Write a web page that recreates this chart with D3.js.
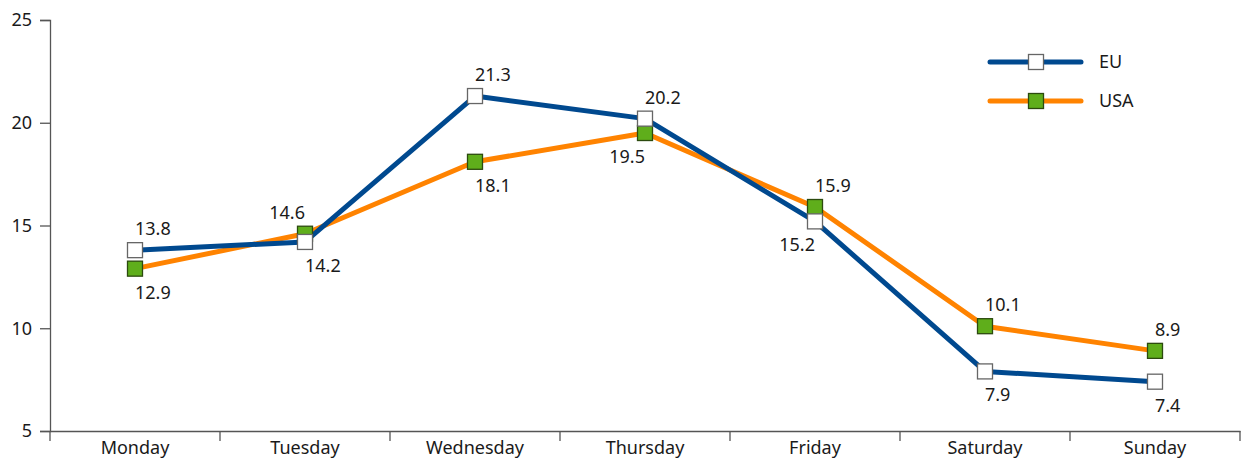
<!DOCTYPE html>
<html>
<head>
<meta charset="utf-8">
<script src="https://cdn.jsdelivr.net/npm/d3@7"></script>
<style>
    body { margin: 0; background: #fff; }
    text { font-family: "Noto Sans", "Open Sans", sans-serif; fill: #1a1a1a; }
</style>
</head>
<body>
<div id="chart"></div>
<script>
// chart data
var days = ["Monday", "Tuesday", "Wednesday", "Thursday", "Friday", "Saturday", "Sunday"];
var euValues = [13.8, 14.2, 21.3, 20.2, 15.2, 7.9, 7.4];
var usaValues = [12.9, 14.6, 18.1, 19.5, 15.9, 10.1, 8.9];
var yTicks = [5, 10, 15, 20, 25];

var width = 1242, height = 463;
var fontSize = "18px";
var svg = d3.select("#chart").append("svg")
        .attr("width", width)
        .attr("height", height);

var x = d3.scaleBand().domain(days).range([50, 1240]);
var y = d3.scaleLinear().domain([5, 25]).range([431, 20]);

var axisColor = "#555";

// y axis
var yAxis = svg.append("g").attr("transform", "translate(50,0)")
        .call(d3.axisLeft(y).tickValues(yTicks).tickSize(10).tickPadding(8));
yAxis.select(".domain").attr("stroke", axisColor).attr("stroke-width", 1.3);
yAxis.selectAll(".tick line").attr("stroke", axisColor).attr("stroke-width", 1.3);
yAxis.selectAll(".tick text").style("font-size", fontSize).attr("fill", "#1a1a1a")
        .style("font-family", "'Noto Sans', sans-serif");

// x axis: labels at band centres, ticks at band edges
var xAxis = svg.append("g").attr("transform", "translate(0,431)")
        .call(d3.axisBottom(x).tickSize(0).tickPadding(5).tickSizeOuter(0));
xAxis.select(".domain").attr("stroke", axisColor).attr("stroke-width", 1.3);
xAxis.selectAll(".tick text").style("font-size", fontSize).attr("fill", "#1a1a1a")
        .attr("dy", "1em")
        .style("font-family", "'Noto Sans', sans-serif");
var edges = days.map(function (d) { return x(d); }).concat([x.range()[1]]);
xAxis.selectAll("line.edge").data(edges).enter().append("line")
        .attr("class", "edge")
        .attr("x1", function (d) { return d; }).attr("x2", function (d) { return d; })
        .attr("y1", 0).attr("y2", 10)
        .attr("stroke", axisColor).attr("stroke-width", 1.3);

function cx(i) { return x(days[i]) + x.bandwidth() / 2; }

var series = [
    { name: "USA", values: usaValues, other: euValues, line: "#ff8300", fill: "#5fae1b", stroke: "#2c4a0e" },
    { name: "EU", values: euValues, other: usaValues, line: "#00498f", fill: "#ffffff", stroke: "#666" }
];

var line = d3.line()
        .x(function (d, i) { return cx(i); })
        .y(function (d) { return y(d); });

var ms = 15;

series.forEach(function (s) {
    svg.append("path")
        .datum(s.values)
        .attr("d", line)
        .attr("fill", "none")
        .attr("stroke", s.line)
        .attr("stroke-width", 5)
        .attr("stroke-linejoin", "round");
});

series.forEach(function (s) {
    svg.selectAll("rect.m" + s.name).data(s.values).enter().append("rect")
        .attr("class", "m" + s.name)
        .attr("x", function (d, i) { return cx(i) - ms / 2; })
        .attr("y", function (d) { return y(d) - ms / 2; })
        .attr("width", ms).attr("height", ms)
        .attr("fill", s.fill)
        .attr("stroke", s.stroke)
        .attr("stroke-width", 1.3);
});

// value labels: higher series above, lower below; flip to the left if the next segment runs into it
series.forEach(function (s) {
    svg.selectAll("text.v" + s.name).data(s.values).enter().append("text")
        .attr("class", "v" + s.name)
        .style("font-size", fontSize)
        .each(function (d, i) {
            var above = d >= s.other[i];
            var next = s.values[i + 1];
            var end = next !== undefined && (above ? next - d > 1 : d - next > 1);
            d3.select(this)
                .attr("x", cx(i))
                .attr("y", y(d) + (above ? -15 : 30))
                .attr("text-anchor", end ? "end" : "start")
                .text(d.toFixed(1));
        });
});

// legend
var legend = svg.append("g");
series.slice().reverse().forEach(function (s, i) {
    var ly = 62 + i * 39;
    legend.append("line")
        .attr("x1", 990).attr("x2", 1081).attr("y1", ly).attr("y2", ly)
        .attr("stroke", s.line).attr("stroke-width", 5).attr("stroke-linecap", "round");
    legend.append("rect")
        .attr("x", 1036 - ms / 2).attr("y", ly - ms / 2)
        .attr("width", ms).attr("height", ms)
        .attr("fill", s.fill).attr("stroke", s.stroke).attr("stroke-width", 1.3);
    legend.append("text")
        .attr("x", 1099).attr("y", ly + 6)
        .style("font-size", fontSize)
        .text(s.name);
});
</script>
</body>
</html>
